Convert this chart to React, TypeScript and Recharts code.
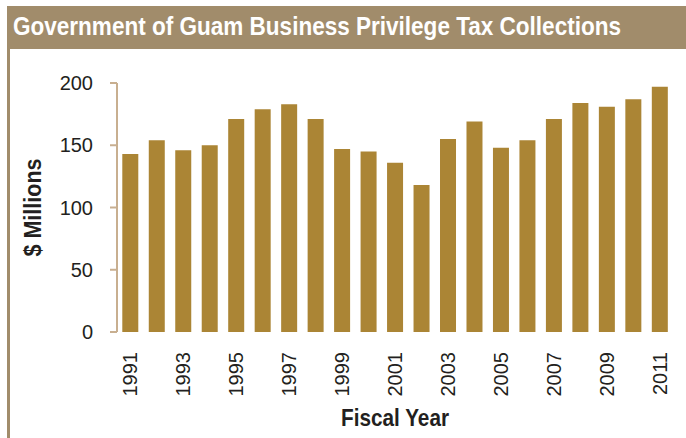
import { BarChart, Bar, XAxis, YAxis, Label } from 'recharts'

const years = [
  '1991', '1992', '1993', '1994', '1995', '1996', '1997', '1998', '1999', '2000', '2001',
  '2002', '2003', '2004', '2005', '2006', '2007', '2008', '2009', '2010', '2011',
]
const collections = [
  143, 154, 146, 150, 171, 179, 183, 171, 147, 145, 136,
  118, 155, 169, 148, 154, 171, 184, 181, 187, 197,
]
const yTicks = [0, 50, 100, 150, 200]
const labeledYears = years.filter((_, i) => i % 2 === 0)

const data = years.map((year, i) => ({ year, value: collections[i] }))
const edgeTicks = Array.from({ length: years.length + 1 }, (_, i) => i)

const tan = '#a18c6b'
const axisColor = '#c8af90'
const barColor = '#ab8535'
const ink = '#231f20'
const sans = "'Liberation Sans', Arial, Helvetica, sans-serif"

// no condensed face is installed, so squeeze the bold texts with textLength
const YearTick = ({ x, y, payload }: { x?: number; y?: number; payload?: { value: string } }) => {
  if (!payload || !labeledYears.includes(payload.value)) return null
  return (
    <g transform={`translate(${x},${y}) rotate(-90)`}>
      <text x={0} y={0} dy="0.36em" textAnchor="end" fontSize={20} fontFamily={sans} fill={ink}>
        {payload.value}
      </text>
    </g>
  )
}

const MillionsLabel = ({ viewBox }: { viewBox?: { x: number; y: number; width: number; height: number } }) => {
  if (!viewBox) return null
  const cy = viewBox.y + viewBox.height / 2
  return (
    <text
      transform={`translate(33,${cy}) rotate(-90)`}
      x={-49}
      y={0}
      dy="0.36em"
      textLength={98}
      lengthAdjust="spacingAndGlyphs"
      fontSize={23}
      fontWeight="bold"
      fontFamily={sans}
      fill={ink}
    >
      $ Millions
    </text>
  )
}

const FiscalLabel = ({ viewBox }: { viewBox?: { x: number; y: number; width: number; height: number } }) => {
  if (!viewBox) return null
  const cx = viewBox.x + viewBox.width / 2
  return (
    <text
      x={cx - 54}
      y={426}
      textLength={108}
      lengthAdjust="spacingAndGlyphs"
      fontSize={24}
      fontWeight="bold"
      fontFamily={sans}
      fill={ink}
    >
      Fiscal Year
    </text>
  )
}

export default function App() {
  return (
    <div style={{ position: 'absolute', left: 0, top: 0, width: 686, height: 438, background: '#fff' }}>
      <div style={{ position: 'absolute', left: 7, top: 6, width: 679, height: 43, background: tan }} />
      <div style={{ position: 'absolute', left: 7, top: 49, width: 3, height: 389, background: tan }} />
      <svg style={{ position: 'absolute', left: 0, top: 0 }} width={686} height={50}>
        <text
          x={13}
          y={35}
          textLength={608}
          lengthAdjust="spacingAndGlyphs"
          fontSize={25}
          fontWeight="bold"
          fontFamily={sans}
          fill="#fff"
        >
          Government of Guam Business Privilege Tax Collections
        </text>
      </svg>
      <div style={{ position: 'absolute', left: 0, top: 0 }}>
        <BarChart
          width={686}
          height={438}
          data={data}
          margin={{ top: 83, right: 13, bottom: 0, left: 0 }}
          barCategoryGap="20%"
        >
          <XAxis
            xAxisId="edges"
            type="number"
            domain={[0, years.length]}
            allowDataOverflow
            ticks={edgeTicks}
            interval={0}
            tick={false}
            tickSize={8}
            height={0}
            axisLine={{ stroke: axisColor, strokeWidth: 2 }}
            tickLine={{ stroke: axisColor, strokeWidth: 2 }}
          />
          <XAxis
            xAxisId="years"
            dataKey="year"
            interval={0}
            axisLine={false}
            tickLine={false}
            tickSize={0}
            tickMargin={20}
            height={106}
            tick={<YearTick />}
          >
            <Label content={<FiscalLabel />} />
          </XAxis>
          <YAxis
            width={117}
            domain={[0, 200]}
            ticks={yTicks}
            interval={0}
            tickSize={7}
            tickMargin={17}
            axisLine={{ stroke: axisColor, strokeWidth: 2 }}
            tickLine={{ stroke: axisColor, strokeWidth: 2 }}
            tick={{ fontSize: 20, fontFamily: sans, fill: ink }}
          >
            <Label content={<MillionsLabel />} />
          </YAxis>
          <Bar xAxisId="years" dataKey="value" fill={barColor} isAnimationActive={false} />
        </BarChart>
      </div>
    </div>
  )
}
